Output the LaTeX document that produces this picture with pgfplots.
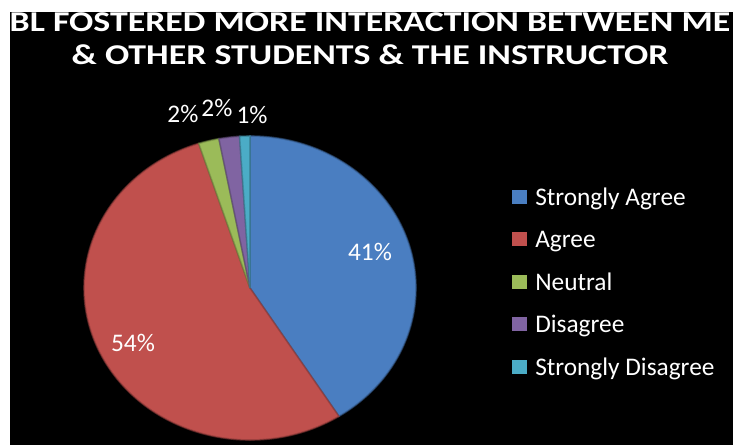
\documentclass[border=0pt]{standalone}
\usepackage{pgfplots}
\pgfplotsset{compat=1.18}
\usepackage{pgfplotstable}
\usepackage{graphicx}
\usepackage{fontspec}
\setmainfont{Carlito}
\definecolor{c0}{RGB}{74,126,193}
\definecolor{c1}{RGB}{192,80,77}
\definecolor{c2}{RGB}{155,187,89}
\definecolor{c3}{RGB}{128,100,162}
\definecolor{c4}{RGB}{75,172,198}

% value = percentage; lx, ly = label position in axis units
\pgfplotstableread{
idx value lx ly
0 41 0.723 0.237
1 54 -0.705 -0.362
2 2 -0.404 1.145
3 2 -0.199 1.184
4 1 0.012 1.138
}\piedata

\begin{document}
\begin{tikzpicture}
\useasboundingbox (0,0) rectangle (561pt,333.75pt);
\fill[white] (0,0) rectangle (561pt,333.75pt);
\fill[black] (7.5pt,0) rectangle (549.75pt,324.75pt);
\gdef\cum{0}%
\pgfplotsinvokeforeach{0,...,4}{%
  \pgfplotstablegetelem{#1}{value}\of\piedata
  \xdef\curv{\pgfplotsretval}%
  \pgfplotstablegetelem{#1}{lx}\of\piedata
  \expandafter\xdef\csname lx#1\endcsname{\pgfplotsretval}%
  \pgfplotstablegetelem{#1}{ly}\of\piedata
  \expandafter\xdef\csname ly#1\endcsname{\pgfplotsretval}%
  \pgfmathsetmacro\tmpa{90-3.6*\cum}%
  \pgfmathsetmacro\tmpb{90-3.6*(\cum+\curv)}%
  \expandafter\xdef\csname sa#1\endcsname{\tmpa}%
  \expandafter\xdef\csname sb#1\endcsname{\tmpb}%
  \expandafter\xdef\csname v#1\endcsname{\curv}%
  \pgfmathsetmacro\tmpc{\cum+\curv}\xdef\cum{\tmpc}%
}%
\begin{axis}[at={(187.5pt,117.75pt)}, anchor=center, hide axis,
  xmin=-1, xmax=1, ymin=-1, ymax=1, x=124.5pt, y=114pt, clip=false]
\pgfplotsinvokeforeach{0,...,4}{%
  \fill[c#1] (axis cs:0,0) -- (axis cs:{cos(\csname sa#1\endcsname)},{sin(\csname sa#1\endcsname)})
     arc[start angle=\csname sa#1\endcsname, end angle=\csname sb#1\endcsname, x radius=124.5pt, y radius=114pt] -- cycle;
  \draw[c#1!70!black, line width=1.2pt, opacity=0.6] (axis cs:0,0) -- (axis cs:{cos(\csname sa#1\endcsname)},{sin(\csname sa#1\endcsname)})
     arc[start angle=\csname sa#1\endcsname, end angle=\csname sb#1\endcsname, x radius=124.5pt, y radius=114pt] -- cycle;
  \node[text=white, font=\fontsize{19}{19}\selectfont, inner sep=0pt]
     at (axis cs:\csname lx#1\endcsname,\csname ly#1\endcsname) {\csname v#1\endcsname\%};
}
\end{axis}
\node[anchor=base, text=white, font=\bfseries\fontsize{21.5}{21.5}\selectfont, inner sep=0pt]
  at (277.5pt,309.75pt) {\scalebox{1.25}[1]{BL FOSTERED MORE INTERACTION BETWEEN ME}};
\node[anchor=base, text=white, font=\bfseries\fontsize{21.5}{21.5}\selectfont, inner sep=0pt]
  at (277.5pt,285pt) {\scalebox{1.25}[1]{\& OTHER STUDENTS \& THE INSTRUCTOR}};
\foreach \name [count=\i from 0] in {Strongly Agree, Agree, Neutral, Disagree, Strongly Disagree}{
  \pgfmathsetmacro\yc{(445-(197+42.5*\i))*0.75}
  \pgfmathsetmacro\yb{(445-(205.5+42.5*\i))*0.75}
  \fill[c\i] (384pt,\yc pt-5.25pt) rectangle (395.25pt,\yc pt+5.25pt);
  \node[anchor=base west, text=white, font=\fontsize{19}{19}\selectfont, inner sep=0pt]
    at (401.25pt,\yb pt) {\name};
}
\end{tikzpicture}
\end{document}
